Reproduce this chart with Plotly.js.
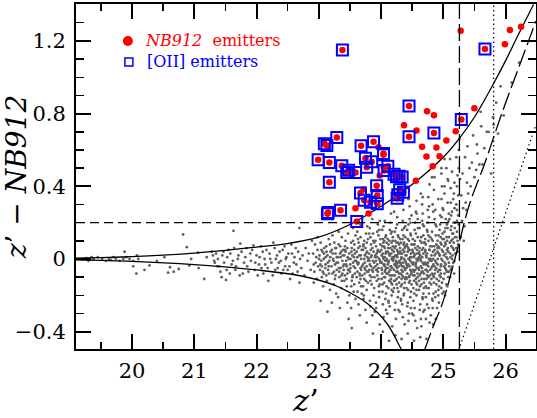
<!DOCTYPE html>
<html>
<head>
<meta charset="utf-8">
<script src="https://cdn.plot.ly/plotly-3.0.1.min.js"></script>
<style>
  html, body { margin: 0; padding: 0; background: #fff; }
  #chart { width: 537px; height: 418px; }
</style>
</head>
<body>
<div id="chart"></div>
<script>
// Colour-magnitude diagram: z' - NB912 against z'.

// Bright field objects along the zero-colour locus: [z', z'-NB912]
const fieldBright = [
  [19.22,0.00],[19.27,0.005],[19.30,-0.01],[19.35,0.01],[19.38,0.00],[19.45,0.01],[19.52,0.00],[19.58,-0.01],
  [19.63,0.00],[19.66,-0.005],[19.70,0.01],[19.74,0.00],[19.80,-0.01],[19.86,0.00],[19.91,0.01],[19.96,0.00],
  [20.02,-0.01],[20.10,0.00],
  [19.88,0.04],[20.08,0.02],[20.02,-0.04],[20.07,-0.08],[20.20,-0.06],[20.28,-0.035],[20.40,-0.01],[20.52,0.01],
  [20.61,-0.045],[20.58,-0.075],[20.67,-0.07],[20.75,-0.055],[20.82,0.135],[20.88,0.065],[20.92,-0.035],[20.95,0.00],
  [21.06,0.035],[21.07,-0.05],[21.16,-0.11],[21.20,0.01],[21.28,0.04],[21.33,-0.02],[21.40,-0.04],[21.45,0.02],
  [21.51,-0.115],[21.55,0.05],[21.60,-0.03],[21.63,0.155],[21.66,-0.06],[21.70,0.00],[21.74,0.085],[21.78,-0.08],
  [21.82,0.01],[21.85,-0.04],[21.90,0.03],[21.95,0.075],[21.98,-0.02],[22.02,-0.09],[22.05,0.01],[22.08,-0.05],
  [22.10,0.04],[22.14,-0.03],[22.19,-0.12],[22.22,0.00],[22.27,0.09],[22.30,-0.06],[22.33,0.02],[22.36,-0.02],
  [22.40,-0.08],[22.42,0.05],[22.46,-0.04],[22.48,0.01],[22.50,-0.06],[22.54,-0.11],[22.57,0.03],[22.60,-0.02],
  [22.63,0.06],[22.66,-0.07],[22.69,0.17],[22.69,-0.13],[22.70,0.00],
  [21.30,0.02],[21.32,-0.01],[21.35,0.03],[21.37,-0.04],[21.38,0.00],[21.42,-0.07],[21.44,-0.10],[21.47,0.04],
  [21.48,-0.02],[21.52,-0.06],[21.53,0.01],[21.57,-0.08],[21.58,0.03],[21.62,-0.01],[21.64,0.06],[21.67,-0.04],
  [21.71,0.02],[21.73,-0.09],[21.76,0.04],[21.80,-0.02],[21.84,0.06],[21.87,-0.07],[21.91,-0.01],[21.93,0.05],
  [21.97,-0.06],[22.00,0.02],[22.04,-0.03],[22.07,0.07],[22.11,-0.08],[22.13,0.00],[22.16,0.05],[22.18,-0.05],
  [22.21,0.03],[22.24,-0.02],[22.26,-0.09],[22.29,0.06],[22.31,0.00],[22.34,-0.05],[22.37,0.04],[22.39,-0.01],
  [22.43,-0.06],[22.45,0.07],[22.47,0.00],[22.51,0.03],[22.53,-0.04],[22.56,0.08],[22.58,-0.08],[22.61,0.01],
  [22.64,-0.03],[22.67,0.04],[22.72,-0.05],[22.74,0.02],[22.77,-0.09],[22.79,0.06],[22.82,-0.01],[22.84,0.03],
  [22.87,-0.06],[22.89,0.10],[22.92,-0.03]
];

// Field objects in the main body of the distribution
const fieldCore = [
  [22.91,0.03],[22.93,-0.07],[22.94,0.08],[22.95,-0.02],[22.96,0.01],[22.97,-0.11],[22.98,0.05],[22.99,-0.04],[22.92,-0.13],[22.98,0.12],
  [23.01,0.02],[23.02,-0.06],[23.03,0.09],[23.04,-0.01],[23.05,-0.10],[23.06,0.04],[23.07,-0.15],[23.08,0.00],[23.09,0.06],[23.05,-0.04],[23.03,-0.23],[23.08,-0.08],
  [23.11,-0.03],[23.12,0.07],[23.13,-0.12],[23.14,0.02],[23.15,-0.06],[23.16,0.11],[23.17,-0.01],[23.18,-0.17],[23.19,0.04],[23.12,-0.09],[23.16,-0.04],[23.14,-0.29],[23.18,0.08],[23.11,0.01],
  [23.21,0.05],[23.22,-0.08],[23.23,0.00],[23.24,-0.14],[23.25,0.09],[23.26,-0.03],[23.27,0.03],[23.28,-0.19],[23.29,-0.06],[23.22,0.13],[23.24,-0.01],[23.26,-0.11],[23.28,0.06],[23.21,-0.24],[23.27,-0.09],[23.29,0.01],
  [23.31,-0.02],[23.32,0.08],[23.33,-0.10],[23.34,0.03],[23.35,-0.05],[23.36,-0.16],[23.37,0.12],[23.38,-0.01],[23.39,0.05],[23.31,-0.21],[23.33,-0.07],[23.35,0.01],[23.37,-0.12],[23.39,-0.04],[23.32,0.15],[23.34,-0.27],[23.36,0.04],[23.38,-0.08],
  [23.41,0.02],[23.42,-0.09],[23.43,0.10],[23.44,-0.03],[23.45,-0.15],[23.46,0.06],[23.47,-0.06],[23.48,0.00],[23.49,-0.20],[23.41,-0.12],[23.43,0.04],[23.44,-0.01],[23.46,-0.08],[23.47,0.14],[23.48,-0.33],[23.42,0.07],[23.45,-0.04],[23.49,0.03],[23.46,-0.24],[23.40,-0.06],
  [23.51,-0.05],[23.52,0.09],[23.53,-0.12],[23.54,0.02],[23.55,-0.02],[23.56,-0.18],[23.57,0.05],[23.58,-0.08],[23.59,0.13],[23.51,0.00],[23.52,-0.27],[23.53,0.06],[23.54,-0.10],[23.55,0.17],[23.56,-0.04],[23.57,-0.14],[23.58,0.03],[23.59,-0.22],[23.50,-0.07],[23.55,0.10],[23.58,-0.01],[23.53,-0.38],
  [23.61,0.04],[23.62,-0.07],[23.63,0.11],[23.64,-0.02],[23.65,-0.13],[23.66,0.07],[23.67,-0.05],[23.68,0.00],[23.69,-0.19],[23.61,-0.10],[23.62,0.15],[23.63,-0.03],[23.64,-0.25],[23.65,0.02],[23.66,-0.09],[23.67,0.19],[23.68,-0.15],[23.69,0.05],[23.60,-0.01],[23.64,0.09],[23.66,-0.31],[23.68,-0.06],[23.62,0.01],[23.67,-0.11],
  [23.71,-0.03],[23.72,0.08],[23.73,-0.11],[23.74,0.02],[23.75,-0.06],[23.76,0.14],[23.77,-0.17],[23.78,0.01],[23.79,-0.01],[23.71,0.05],[23.72,-0.22],[23.73,0.10],[23.74,-0.08],[23.75,-0.28],[23.76,0.03],[23.77,-0.04],[23.78,0.18],[23.79,-0.13],[23.70,-0.09],[23.73,0.00],[23.75,0.06],[23.77,-0.35],[23.79,0.11],[23.71,-0.15],[23.74,-0.02],[23.78,-0.07],
  [23.81,0.03],[23.82,-0.09],[23.83,0.12],[23.84,-0.04],[23.85,-0.14],[23.86,0.06],[23.87,-0.01],[23.88,-0.20],[23.89,0.09],[23.81,-0.06],[23.82,0.17],[23.83,-0.26],[23.84,0.01],[23.85,-0.10],[23.86,0.22],[23.87,-0.07],[23.88,0.04],[23.89,-0.16],[23.80,0.00],[23.82,-0.03],[23.84,0.08],[23.86,-0.31],[23.88,-0.05],[23.81,0.14],[23.83,-0.12],[23.85,0.02],[23.87,-0.41],[23.89,-0.02],
  [23.91,-0.04],[23.92,0.07],[23.93,-0.12],[23.94,0.01],[23.95,-0.07],[23.96,0.13],[23.97,-0.18],[23.98,0.04],[23.99,-0.02],[23.91,0.10],[23.92,-0.24],[23.93,0.03],[23.94,-0.09],[23.95,0.19],[23.96,-0.05],[23.97,0.00],[23.98,-0.14],[23.99,0.08],[23.90,-0.29],[23.92,-0.01],[23.94,0.15],[23.96,-0.11],[23.98,-0.36],[23.91,0.02],[23.93,-0.06],[23.95,0.05],[23.97,-0.21],[23.99,0.11],[23.94,-0.03],[23.98,0.21],
  [24.01,0.02],[24.02,-0.08],[24.03,0.11],[24.04,-0.03],[24.05,-0.13],[24.06,0.06],[24.07,-0.01],[24.08,-0.19],[24.09,0.09],[24.01,-0.05],[24.02,0.16],[24.03,-0.25],[24.04,0.00],[24.05,-0.10],[24.06,0.21],[24.07,-0.06],[24.08,0.04],[24.09,-0.15],[24.00,-0.02],[24.02,0.07],[24.04,-0.32],[24.06,-0.04],[24.08,0.13],[24.01,-0.11],[24.03,0.03],[24.05,0.10],[24.07,-0.22],[24.09,-0.08],[24.03,-0.40],[24.06,0.01],[24.08,-0.28],[24.04,0.18],
  [24.11,-0.03],[24.12,0.08],[24.13,-0.12],[24.14,0.02],[24.15,-0.06],[24.16,0.14],[24.17,-0.17],[24.18,0.05],[24.19,-0.01],[24.11,0.11],[24.12,-0.23],[24.13,0.03],[24.14,-0.09],[24.15,0.20],[24.16,-0.04],[24.17,0.00],[24.18,-0.14],[24.19,0.07],[24.10,-0.30],[24.12,-0.02],[24.14,0.16],[24.16,-0.11],[24.18,-0.37],[24.11,0.04],[24.13,-0.07],[24.15,0.06],[24.17,-0.20],[24.19,0.12],[24.13,-0.45],[24.16,0.25],[24.18,-0.05],[24.12,-0.16],[24.14,-0.26],[24.17,0.09],
  [24.21,0.01],[24.22,-0.09],[24.23,0.10],[24.24,-0.04],[24.25,-0.14],[24.26,0.05],[24.27,-0.02],[24.28,-0.18],[24.29,0.08],[24.21,-0.06],[24.22,0.15],[24.23,-0.24],[24.24,-0.01],[24.25,-0.11],[24.26,0.19],[24.27,-0.07],[24.28,0.03],[24.29,-0.13],[24.20,0.00],[24.22,0.06],[24.24,-0.33],[24.26,-0.05],[24.28,0.12],[24.21,-0.12],[24.23,0.02],[24.25,0.09],[24.27,-0.21],[24.29,-0.08],[24.23,-0.42],[24.26,0.23],[24.28,-0.28],[24.24,0.17],[24.21,-0.16],[24.27,0.04],[24.25,-0.03],
  [24.31,-0.02],[24.32,0.09],[24.33,-0.11],[24.34,0.03],[24.35,-0.07],[24.36,0.13],[24.37,-0.16],[24.38,0.06],[24.39,-0.01],[24.31,0.11],[24.32,-0.22],[24.33,0.01],[24.34,-0.09],[24.35,0.21],[24.36,-0.04],[24.37,0.00],[24.38,-0.13],[24.39,0.07],[24.30,-0.29],[24.32,-0.03],[24.34,0.16],[24.36,-0.10],[24.38,-0.36],[24.31,0.04],[24.33,-0.06],[24.35,0.05],[24.37,-0.19],[24.39,0.12],[24.33,-0.44],[24.36,0.27],[24.38,-0.05],[24.32,-0.15],[24.34,-0.25],[24.37,0.09],[24.35,-0.32],[24.39,0.18],
  [24.41,0.02],[24.42,-0.08],[24.43,0.11],[24.44,-0.03],[24.45,-0.13],[24.46,0.05],[24.47,-0.01],[24.48,-0.18],[24.49,0.08],[24.41,-0.05],[24.42,0.16],[24.43,-0.24],[24.44,0.00],[24.45,-0.10],[24.46,0.22],[24.47,-0.06],[24.48,0.03],[24.49,-0.14],[24.40,-0.02],[24.42,0.07],[24.44,-0.34],[24.46,-0.04],[24.48,0.13],[24.41,-0.11],[24.43,0.04],[24.45,0.10],[24.47,-0.21],[24.49,-0.08],[24.43,-0.41],[24.46,0.29],[24.48,-0.27],[24.44,0.19],[24.41,-0.16],[24.47,0.01],[24.45,-0.30],[24.49,0.24],
  [24.51,-0.03],[24.52,0.08],[24.53,-0.12],[24.54,0.02],[24.55,-0.06],[24.56,0.14],[24.57,-0.17],[24.58,0.05],[24.59,-0.01],[24.51,0.11],[24.52,-0.23],[24.53,0.03],[24.54,-0.09],[24.55,0.20],[24.56,-0.04],[24.57,0.00],[24.58,-0.14],[24.59,0.07],[24.50,-0.30],[24.52,-0.02],[24.54,0.16],[24.56,-0.11],[24.58,-0.38],[24.51,0.04],[24.53,-0.07],[24.55,0.06],[24.57,-0.20],[24.59,0.12],[24.53,-0.45],[24.56,0.26],[24.58,-0.05],[24.52,-0.16],[24.54,-0.27],[24.57,0.32],[24.55,-0.34],[24.59,0.22],
  [24.61,0.01],[24.62,-0.09],[24.63,0.10],[24.64,-0.04],[24.65,-0.14],[24.66,0.05],[24.67,-0.02],[24.68,-0.19],[24.69,0.09],[24.61,-0.06],[24.62,0.17],[24.63,-0.25],[24.64,-0.01],[24.65,-0.11],[24.66,0.21],[24.67,-0.07],[24.68,0.03],[24.69,-0.13],[24.60,0.00],[24.62,0.06],[24.64,-0.33],[24.66,-0.05],[24.68,0.13],[24.61,-0.12],[24.63,0.02],[24.65,0.09],[24.67,-0.22],[24.69,-0.08],[24.63,-0.43],[24.66,0.30],[24.68,-0.29],[24.64,0.36],[24.61,-0.17],[24.67,0.25],[24.65,-0.37],[24.69,0.18],
  [24.71,-0.02],[24.72,0.08],[24.73,-0.11],[24.74,0.03],[24.75,-0.07],[24.76,0.13],[24.77,-0.16],[24.78,0.05],[24.79,-0.01],[24.71,0.11],[24.72,-0.21],[24.73,0.01],[24.74,-0.09],[24.75,0.20],[24.76,-0.04],[24.77,0.00],[24.78,-0.13],[24.79,0.07],[24.70,-0.28],[24.72,-0.03],[24.74,0.16],[24.76,-0.10],[24.78,-0.35],[24.71,0.04],[24.73,-0.06],[24.75,0.27],[24.77,-0.19],[24.79,0.12],[24.73,-0.44],[24.76,0.34],[24.78,0.41],[24.72,-0.15],[24.74,-0.25],[24.77,0.23],
  [24.81,0.02],[24.82,-0.08],[24.83,0.10],[24.84,-0.03],[24.85,-0.13],[24.86,0.05],[24.87,-0.01],[24.88,-0.18],[24.89,0.08],[24.81,-0.05],[24.82,0.15],[24.83,-0.23],[24.84,0.00],[24.85,-0.10],[24.86,0.22],[24.87,-0.06],[24.88,0.03],[24.89,-0.14],[24.80,-0.31],[24.82,0.07],[24.84,-0.36],[24.86,-0.04],[24.88,0.13],[24.81,-0.11],[24.83,0.30],[24.85,0.38],[24.87,-0.21],[24.89,0.18],[24.83,-0.27],[24.86,0.45],[24.88,-0.33],[24.84,0.26],
  [24.91,-0.03],[24.92,0.07],[24.93,-0.12],[24.94,0.02],[24.95,-0.06],[24.96,0.12],[24.97,-0.16],[24.98,0.05],[24.99,-0.01],[24.91,0.10],[24.92,-0.20],[24.93,0.03],[24.94,-0.09],[24.95,0.19],[24.96,-0.04],[24.97,0.00],[24.98,-0.13],[24.99,0.28],[24.90,-0.27],[24.92,0.33],[24.94,0.16],[24.96,-0.10],[24.98,0.40],[24.91,0.04],[24.93,-0.24],[24.95,0.24],[24.97,0.47],[24.99,0.14],[24.93,-0.06],[24.97,0.08],
  [25.01,0.02],[25.02,-0.08],[25.03,0.09],[25.04,-0.03],[25.05,-0.14],[25.06,0.05],[25.07,0.00],[25.08,-0.10],[25.09,0.12],[25.01,-0.18],[25.02,0.15],[25.03,-0.05],[25.04,0.22],[25.05,0.01],[25.06,-0.07],[25.07,0.31],[25.08,0.04],[25.09,-0.02],[25.00,0.27],[25.02,0.36],[25.04,0.08],[25.06,0.19],[25.08,0.43],[25.01,0.11],[25.03,-0.20],[25.05,0.50],[25.07,0.17],[25.09,0.25],
  [25.11,0.03],[25.12,-0.06],[25.13,0.10],[25.14,0.00],[25.15,-0.04],[25.16,0.14],[25.17,0.05],[25.18,-0.01],[25.19,0.20],[25.11,-0.10],[25.12,0.16],[25.13,0.07],[25.14,0.26],[25.15,0.02],[25.16,0.33],[25.17,0.09],[25.18,0.42],[25.19,0.12],[25.10,0.22],[25.12,0.39],[25.14,0.48],[25.16,-0.02],[25.18,0.28],[25.11,0.55],[25.13,0.18],[25.15,0.11],
  [25.21,0.06],[25.22,0.15],[25.23,0.10],[25.24,0.24],[25.25,0.19],[25.21,0.30],[25.22,0.40],[25.23,0.04],[25.24,0.35],[25.25,0.50],[25.21,0.12],[25.23,0.46],[25.24,0.08],[25.22,0.27],[25.25,0.60],[25.20,0.03],
  [25.26,0.66],[25.21,0.56],[25.02,0.55],[24.97,0.50],[24.82,0.45],[24.21,0.26],[24.44,0.33],[24.67,0.34]
];

// Further objects filling the densest part of the distribution
const fieldCoreDense = [
  [23.005,0.00],[23.025,-0.03],[23.045,0.05],[23.065,-0.07],[23.085,0.03],[23.105,-0.05],[23.125,0.04],[23.145,-0.02],[23.165,-0.08],[23.185,0.01],
  [23.205,-0.04],[23.225,0.03],[23.245,-0.07],[23.265,0.06],[23.285,-0.02],[23.305,0.01],[23.325,-0.05],[23.345,0.07],[23.365,-0.09],[23.385,0.02],
  [23.405,-0.03],[23.425,0.05],[23.445,-0.11],[23.465,0.01],[23.485,-0.06],
  [23.505,-0.03],[23.525,0.04],[23.545,-0.09],[23.565,0.01],[23.585,-0.05],[23.615,-0.02],[23.635,0.06],[23.655,-0.08],[23.675,0.02],[23.695,-0.04],
  [23.715,0.07],[23.735,-0.05],[23.755,-0.12],[23.775,0.04],[23.795,-0.07],[23.815,-0.01],[23.835,0.05],[23.855,-0.06],[23.875,0.10],[23.895,-0.10],
  [23.905,0.01],[23.925,-0.06],[23.945,0.04],[23.965,-0.15],[23.985,-0.01],
  [24.005,0.05],[24.015,-0.06],[24.025,-0.14],[24.035,0.01],[24.045,0.07],[24.055,-0.03],[24.065,-0.10],[24.075,0.03],[24.085,-0.05],[24.095,0.00],
  [24.105,-0.08],[24.115,0.06],[24.125,-0.01],[24.135,0.10],[24.145,-0.12],[24.155,-0.04],[24.165,0.03],[24.175,-0.09],[24.185,0.01],[24.195,-0.18],
  [24.205,0.04],[24.215,-0.03],[24.225,-0.12],[24.235,0.07],[24.245,-0.07],[24.255,0.02],[24.265,-0.16],[24.275,0.09],[24.285,-0.04],[24.295,-0.01],
  [24.305,0.06],[24.315,-0.08],[24.325,0.00],[24.335,-0.14],[24.345,0.11],[24.355,-0.02],[24.365,-0.20],[24.375,0.04],[24.385,-0.06],[24.395,0.02],
  [24.405,-0.10],[24.415,0.08],[24.425,-0.04],[24.435,-0.17],[24.445,0.05],[24.455,0.00],[24.465,-0.12],[24.475,0.14],[24.485,-0.07],[24.495,-0.02],
  [24.505,0.05],[24.515,-0.09],[24.525,0.01],[24.535,-0.19],[24.545,0.10],[24.555,-0.03],[24.565,-0.13],[24.575,0.03],[24.585,-0.08],[24.595,0.17],
  [24.605,-0.05],[24.615,0.04],[24.625,-0.15],[24.635,0.00],[24.645,0.12],[24.655,-0.07],[24.665,-0.21],[24.675,0.06],[24.685,-0.03],[24.695,-0.11],
  [24.705,0.09],[24.715,-0.06],[24.725,0.02],[24.735,-0.16],[24.745,0.15],[24.755,-0.02],[24.765,-0.27],[24.775,0.05],[24.785,-0.09],[24.795,0.00],
  [24.805,-0.14],[24.815,0.11],[24.825,-0.04],[24.835,0.04],[24.845,-0.19],[24.855,0.07],[24.865,-0.08],[24.875,0.19],[24.885,-0.02],[24.895,-0.11],
  [24.905,0.06],[24.915,-0.07],[24.925,0.13],[24.935,-0.15],[24.945,0.02],[24.955,0.09],[24.965,-0.03],[24.975,0.23],[24.985,-0.19],[24.995,0.04],
  [25.005,-0.11],[25.015,0.07],[25.025,-0.02],[25.035,0.17],[25.045,-0.06],[25.055,0.12],[25.065,-0.15],[25.075,0.06],[25.085,0.21],[25.095,-0.04],
  [25.105,0.09],[25.115,0.01],[25.125,0.24],[25.135,-0.05],[25.145,0.14],[25.155,0.06],[25.165,0.20],[25.175,-0.08],[25.185,0.17],[25.195,0.03],
  [24.012,-0.02],[24.038,0.09],[24.062,-0.07],[24.088,-0.01],[24.112,-0.05],[24.138,0.02],[24.162,-0.13],[24.188,0.10],[24.212,-0.09],[24.238,-0.02],
  [24.262,0.01],[24.288,-0.10],[24.312,0.03],[24.338,-0.04],[24.362,0.08],[24.388,-0.11],[24.412,-0.03],[24.438,0.06],[24.462,-0.09],[24.488,0.01],
  [24.512,-0.06],[24.538,0.08],[24.562,-0.02],[24.588,-0.10],[24.612,0.03],[24.638,-0.08],[24.662,0.01],[24.688,-0.16],[24.712,0.05],[24.738,-0.03],
  [24.762,0.10],[24.788,-0.06],[24.812,-0.01],[24.838,-0.09],[24.862,0.02],[24.888,-0.05],[24.912,0.00],[24.938,0.06],[24.962,-0.08],[24.988,0.11],
  [25.012,-0.04],[25.038,0.03],[25.062,0.10],[25.088,-0.07],
  [24.022,-0.18],[24.072,0.12],[24.122,-0.24],[24.172,0.15],[24.222,-0.28],[24.272,0.13],[24.322,-0.23],[24.372,0.17],[24.422,-0.26],[24.472,0.20],
  [24.522,-0.31],[24.572,0.25],[24.622,-0.28],[24.672,0.19],[24.722,-0.33],[24.772,0.29],[24.822,-0.22],[24.872,0.27],[24.922,-0.17],[24.972,0.33],
  [25.022,0.40],[25.072,0.44],[25.122,0.31],[25.172,0.36],[25.222,0.21],
  [23.522,-0.15],[23.572,0.08],[23.622,-0.18],[23.672,0.12],[23.722,-0.20],[23.772,0.09],[23.822,-0.23],[23.872,0.14],[23.922,-0.27],[23.972,0.16]
];

// Faint field objects beyond the z' limit
const fieldFaint = [
  [25.28,0.12],[25.30,0.21],[25.32,0.28],[25.29,0.35],[25.34,0.18],[25.36,0.31],[25.38,0.42],[25.31,0.47],
  [25.40,0.36],[25.42,0.50],[25.35,0.56],[25.44,0.40],[25.39,0.62],[25.46,0.53],[25.50,0.45],[25.53,0.49],
  [25.48,0.68],[25.55,0.58],[25.58,0.52],[25.54,0.63],[25.61,0.73],[25.63,0.52],[25.66,0.61],[25.60,0.81],
  [25.70,0.70],[25.73,0.70],[25.77,0.47],[25.80,0.78],[25.81,0.74],[25.85,0.86],[25.88,0.69],[25.97,0.79],
  [25.92,0.95],[26.10,0.97],[26.22,1.08],[25.33,0.10],[25.37,0.27],[25.27,0.44]
];

// [OII] emitters (also NB912 emitters)
const oiiEmitters = [
  [24.45,0.842],[24.45,0.672],[24.85,0.694],[25.29,0.767],[23.29,0.668],[23.09,0.634],[23.13,0.624],[23.68,0.623],
  [23.88,0.645],[24.04,0.580],[24.04,0.573],[22.99,0.546],[23.17,0.531],[23.75,0.555],[23.85,0.535],[23.77,0.505],
  [23.37,0.513],[23.48,0.489],[23.45,0.476],[23.59,0.476],[24.11,0.511],[24.05,0.487],[24.21,0.467],[24.29,0.456],
  [24.34,0.451],[24.25,0.452],[23.17,0.423],[23.93,0.403],[23.67,0.363],[23.94,0.349],[23.73,0.324],[23.83,0.313],
  [23.94,0.304],[24.30,0.381],[24.36,0.368],[24.27,0.353],[24.26,0.335],[23.15,0.256],[23.14,0.249],[23.35,0.269],
  [23.61,0.207],[23.38,1.150],[25.67,1.155]
];

// NB912 emitters without an [OII] classification
const nbOnlyEmitters = [
  [25.28,1.256],[26.07,1.260],[26.25,1.278],[25.99,1.181],[25.50,0.830],[24.74,0.813],[24.85,0.791],[24.37,0.736],
  [24.57,0.707],[25.20,0.703],[25.05,0.652],[24.66,0.617],[24.89,0.613],[23.96,0.615],[24.73,0.564],[24.94,0.566],
  [24.83,0.511],[24.04,0.507],[24.56,0.430],[23.72,0.382],[23.59,0.280],[23.80,0.251],[23.98,0.459]
];

// Selection curves: [z', z'-NB912]
const sigmaUpper = [
  [19.10,0.005],[19.5,0.008],[20.0,0.013],[20.5,0.021],[21.0,0.033],[21.5,0.048],[22.0,0.066],[22.5,0.085],
  [23.0,0.12],[23.5,0.19],[24.0,0.29],[24.5,0.41],[25.0,0.56],[25.25,0.66],[25.5,0.78],[25.8,0.96],
  [26.0,1.09],[26.2,1.23],[26.45,1.40]
];
const sigmaLower = [
  [19.10,-0.005],[20.0,-0.013],[21.0,-0.031],[22.0,-0.06],[22.7,-0.092],[23.23,-0.141],[23.5,-0.185],
  [23.77,-0.242],[24.09,-0.352],[24.30,-0.48],[24.33,-0.50]
];
const zLimitCurve = [
  [24.70,-0.50],[24.85,-0.36],[24.99,-0.24],[25.21,0.03],[25.42,0.30],[25.66,0.52],[25.96,0.82],
  [26.22,1.06],[26.49,1.31]
];
const nbLimitLine = [[25.25,-0.50],[26.49,0.74]];

// Reference cuts
const colourCut = 0.2;      // z' - NB912
const zLimit = 25.26;       // z' detection limit
const zLimit2 = 25.81;      // z' 2-sigma limit

const col = (arr, i) => arr.map(p => p[i]);
const field = fieldBright.concat(fieldCore, fieldCoreDense, fieldFaint);
const nbAll = nbOnlyEmitters.concat(oiiEmitters);

const serif = 'DejaVu Serif';

const traces = [
  { x: col(field,0), y: col(field,1), type: 'scatter', mode: 'markers',
    marker: { size: 2.8, color: 'rgb(95,95,95)' }, hoverinfo: 'skip' },
  { x: col(sigmaUpper,0), y: col(sigmaUpper,1), type: 'scatter', mode: 'lines',
    line: { color: 'black', width: 1.3, shape: 'spline' } },
  { x: col(sigmaLower,0), y: col(sigmaLower,1), type: 'scatter', mode: 'lines',
    line: { color: 'black', width: 1.3, shape: 'spline' } },
  { x: col(zLimitCurve,0), y: col(zLimitCurve,1), type: 'scatter', mode: 'lines',
    line: { color: 'black', width: 1.3, shape: 'spline', dash: '18px,5px' } },
  { x: col(nbLimitLine,0), y: col(nbLimitLine,1), type: 'scatter', mode: 'lines',
    line: { color: 'black', width: 1.2, dash: '1.5px,3px' } },
  { x: col(nbAll,0), y: col(nbAll,1), type: 'scatter', mode: 'markers',
    marker: { size: 6.5, color: 'rgb(255,0,0)' } },
  { x: col(oiiEmitters,0), y: col(oiiEmitters,1), type: 'scatter', mode: 'markers',
    marker: { symbol: 'square-open', size: 11, color: 'rgb(0,0,255)', line: { width: 2, color: 'rgb(0,0,255)' } } }
];

const tickFont = { family: serif, size: 21, color: 'black' };

const layout = {
  width: 537, height: 418,
  margin: { l: 76, r: 1, t: 4, b: 69 },
  paper_bgcolor: 'white', plot_bgcolor: 'white',
  showlegend: false,
  xaxis: {
    range: [19.1, 26.49], tick0: 20, dtick: 1,
    ticks: 'inside', ticklen: 15, tickwidth: 2, tickcolor: 'black',
    minor: { dtick: 0.5, ticks: 'inside', ticklen: 7, tickwidth: 1.5, tickcolor: 'black' },
    showline: true, linewidth: 2, linecolor: 'black', mirror: 'ticks',
    showgrid: false, zeroline: false, tickfont: tickFont, ticklabelstandoff: 2,
    title: { text: '<i>z</i>\u2019', font: { family: serif, size: 30, color: 'black' }, standoff: 8 }
  },
  yaxis: {
    range: [-0.495, 1.403], tick0: 0, dtick: 0.4,
    ticks: 'inside', ticklen: 15, tickwidth: 2, tickcolor: 'black',
    minor: { dtick: 0.1, ticks: 'inside', ticklen: 8, tickwidth: 1.5, tickcolor: 'black' },
    showline: true, linewidth: 2, linecolor: 'black', mirror: 'ticks',
    showgrid: false, zeroline: false, tickfont: tickFont, ticklabelstandoff: 4,
    title: { text: '<i>z</i>\u2019 \u2212 <i>NB912</i>', font: { family: serif, size: 28, color: 'black' }, standoff: 6 }
  },
  shapes: [
    { type: 'line', xref: 'paper', x0: 0, x1: 1, yref: 'y', y0: colourCut, y1: colourCut,
      line: { color: 'black', width: 1.2, dash: '9px,5px' } },
    { type: 'line', xref: 'x', x0: zLimit, x1: zLimit, yref: 'paper', y0: 0, y1: 1,
      line: { color: 'black', width: 1.3, dash: '17px,5px' } },
    { type: 'line', xref: 'x', x0: zLimit2, x1: zLimit2, yref: 'paper', y0: 0, y1: 1,
      line: { color: 'black', width: 1.2, dash: '1.5px,3px' } },
    // key symbols
    { type: 'circle', xref: 'paper', yref: 'paper', xsizemode: 'pixel', ysizemode: 'pixel',
      xanchor: 0.1128, yanchor: 0.893, x0: -5, x1: 5, y0: -5, y1: 5,
      fillcolor: 'rgb(255,0,0)', line: { width: 0 } },
    { type: 'rect', xref: 'paper', yref: 'paper', xsizemode: 'pixel', ysizemode: 'pixel',
      xanchor: 0.115, yanchor: 0.832, x0: -4, x1: 4, y0: -4, y1: 4,
      fillcolor: 'rgba(0,0,0,0)', line: { width: 1.5, color: 'rgb(0,0,255)' } }
  ],
  annotations: [
    { xref: 'paper', yref: 'paper', x: 0.145, y: 0.893, xanchor: 'left', yanchor: 'middle', showarrow: false,
      text: '<i>NB912</i>  emitters', font: { family: serif, size: 16, color: 'rgb(255,0,0)' } },
    { xref: 'paper', yref: 'paper', x: 0.151, y: 0.832, xanchor: 'left', yanchor: 'middle', showarrow: false,
      text: '[OII] emitters', font: { family: serif, size: 16, color: 'rgb(0,0,255)' } }
  ]
};

Plotly.newPlot('chart', traces, layout, { staticPlot: true, displayModeBar: false });
</script>
</body>
</html>
